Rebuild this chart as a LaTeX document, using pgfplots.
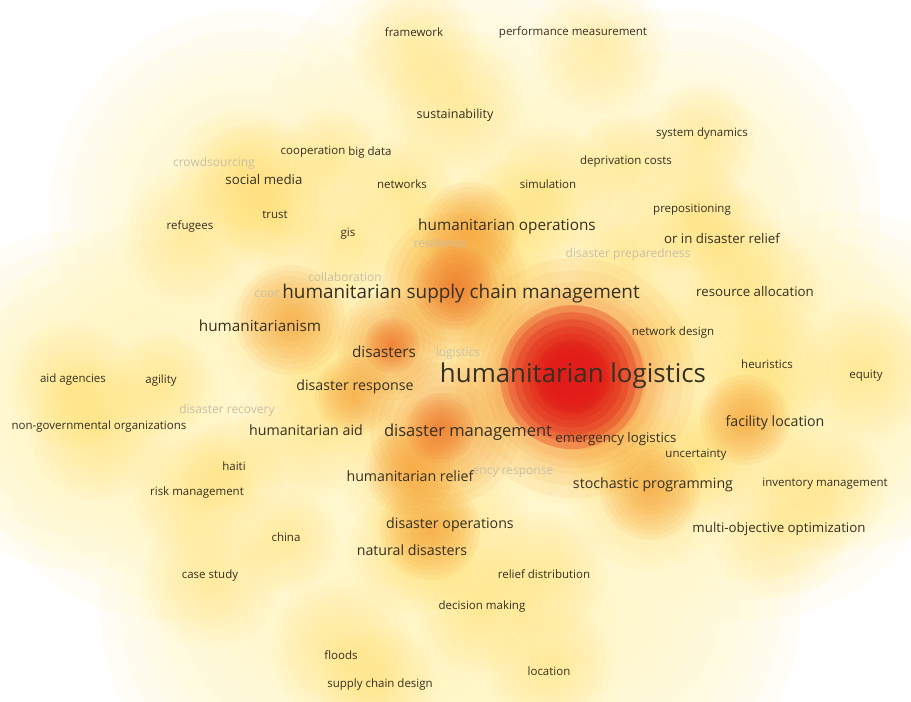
\documentclass[border=0pt]{standalone}
\usepackage{pgfplots}
\pgfplotsset{compat=1.18}
\usepackage{pgfplotstable}
\usepackage{fontspec}
\setmainfont{Open Sans}
\definecolor{basec}{RGB}{255,244,190}
\definecolor{yelc}{RGB}{255,222,95}
\definecolor{orac}{RGB}{248,160,55}
\definecolor{dorc}{RGB}{240,100,30}
\definecolor{redc}{RGB}{226,28,24}
\definecolor{txtc}{RGB}{52,48,34}
\definecolor{fadetxtc}{RGB}{200,192,166}
\pgfdeclareplotmark{dot}{\pgfpathcircle{\pgfpointorigin}{\pgfplotmarksize}\pgfusepathqfill}
\pgfplotsset{
  blobs/.style n args={4}{scatter, only marks, mark=dot,
    scatter/use mapped color={fill=#1, fill opacity=#2},
    visualization depends on={\thisrow{r}*#3*#4/10 \as \perpointmarksize},
    scatter/@pre marker code/.append style={/tikz/mark size=\perpointmarksize}},
  lab/.style n args={2}{only marks, mark=*, mark size=0pt,
    mark options={draw=none, fill=none},
    point meta=explicit symbolic, nodes near coords={\pgfplotspointmeta},
    nodes near coords style={anchor=center, inner sep=0pt,
      font=\fontsize{#1}{#1}\selectfont, text=#2}},
}

\pgfplotstableread{
x y r
250 210 200
460 150 200
680 210 200
170 420 200
460 420 200
750 420 200
300 610 200
600 610 200
460 300 200
840 380 170
80 400 170
450 660 170
}\basetab

\pgfplotstableread{
x y r
414 45 55
600 45 60
455 100 60
702 140 50
626 165 45
240 170 55
330 160 45
264 190 60
402 190 45
548 190 55
692 215 50
190 235 60
275 220 45
348 240 45
722 245 55
755 295 60
673 335 50
767 370 55
866 370 60
73 385 55
161 385 45
99 430 60
234 470 45
197 495 55
286 540 45
210 580 60
544 575 55
482 610 55
341 650 60
549 665 55
380 685 50
696 460 50
825 490 55
779 530 60
740 425 70
650 490 70
616 440 50
300 330 70
355 390 60
306 430 60
410 475 60
450 530 70
412 550 55
507 230 60
461 290 80
575 378 110
440 245 50
628 255 50
}\yeltab

\pgfplotstableread{
x y r
575 378 120
455 285 72
470 230 48
392 345 55
445 430 75
290 320 55
430 530 50
650 490 50
745 420 45
410 470 45
355 395 40
}\oratab

\pgfplotstableread{
x y r
455 288 42
440 428 35
392 345 28
575 378 90
}\dortab

\pgfplotstableread{
x y r
572 377 72
572 377 38
}\redtab

\pgfplotstableread[col sep=comma]{
x,y,label
414,32,framework
573,32,performance measurement
702,134,system dynamics
626,162,deprivation costs
313,152,cooperation
370,153,big data
402,184,networks
548,184,simulation
692,210,prepositioning
190,226,refugees
275,215,trust
348,234,gis
673,333,network design
767,364,heuristics
866,376,equity
73,380,aid agencies
161,381,agility
99,427,non-governmental organizations
696,455,uncertainty
234,466,haiti
825,484,inventory management
197,493,risk management
286,537,china
210,576,case study
544,574,relief distribution
482,607,decision making
341,655,floods
549,671,location
380,685,supply chain design
}\labsmall

\pgfplotstableread[col sep=comma]{
x,y,label
455,115,sustainability
}\labtwelve

\pgfplotstableread[col sep=comma]{
x,y,label
264,180,social media
722,238,or in disaster relief
755,292,resource allocation
616,439,emergency logistics
779,529,multi-objective optimization
}\labthirteen

\pgfplotstableread[col sep=comma]{
x,y,label
355,387,disaster response
306,430,humanitarian aid
775,423,facility location
410,476,humanitarian relief
653,485,stochastic programming
450,525,disaster operations
412,550,natural disasters
}\labfourteen

\pgfplotstableread[col sep=comma]{
x,y,label
507,227,humanitarian operations
260,326,humanitarianism
384,352,disasters
}\labfifteen

\pgfplotstableread[col sep=comma]{
x,y,label
468,432,disaster management
}\labsixteen

\pgfplotstableread[col sep=comma]{
x,y,label
461,294,humanitarian supply chain management
}\labnineteen

\pgfplotstableread[col sep=comma]{
x,y,label
573,376,humanitarian logistics
}\labbig

\pgfplotstableread[col sep=comma]{
x,y,label
214,163,crowdsourcing
440,243,resilience
628,254,disaster preparedness
345,277,collaboration
267,294,coor
458,353,logistics
227,410,disaster recovery
513,473,ency response
}\labfade

\begin{document}
\begin{tikzpicture}
\useasboundingbox (0,0) rectangle (911pt,702pt);
\clip (0,0) rectangle (911pt,702pt);
\begin{axis}[
  at={(0,0)}, anchor=south west,
  scale only axis, width=911pt, height=702pt,
  xmin=0, xmax=911, ymin=0, ymax=702, y dir=reverse,
  hide axis, clip=false,
]
\pgfplotsinvokeforeach{10,9,...,1}{
  \addplot[blobs={basec}{0.15}{#1}{1}] table {\basetab};
}
\pgfplotsinvokeforeach{10,9,...,1}{
  \addplot[blobs={yelc}{0.05}{#1}{1.15}] table {\yeltab};
}
\pgfplotsinvokeforeach{10,9,...,1}{
  \addplot[blobs={orac}{0.10}{#1}{1}] table {\oratab};
}
\pgfplotsinvokeforeach{10,9,...,1}{
  \addplot[blobs={dorc}{0.08}{#1}{1}] table {\dortab};
}
\pgfplotsinvokeforeach{10,9,...,1}{
  \addplot[blobs={redc}{0.259}{#1}{1}] table {\redtab};
}
\addplot[lab={12}{fadetxtc}] table[meta=label] {\labfade};
\addplot[lab={11.5}{txtc}] table[meta=label] {\labsmall};
\addplot[lab={12.5}{txtc}] table[meta=label] {\labtwelve};
\addplot[lab={13.3}{txtc}] table[meta=label] {\labthirteen};
\addplot[lab={14.2}{txtc}] table[meta=label] {\labfourteen};
\addplot[lab={15.3}{txtc}] table[meta=label] {\labfifteen};
\addplot[lab={16.5}{txtc}] table[meta=label] {\labsixteen};
\addplot[lab={18.9}{txtc}] table[meta=label] {\labnineteen};
\addplot[lab={25.9}{txtc}] table[meta=label] {\labbig};
\end{axis}
\end{tikzpicture}
\end{document}
